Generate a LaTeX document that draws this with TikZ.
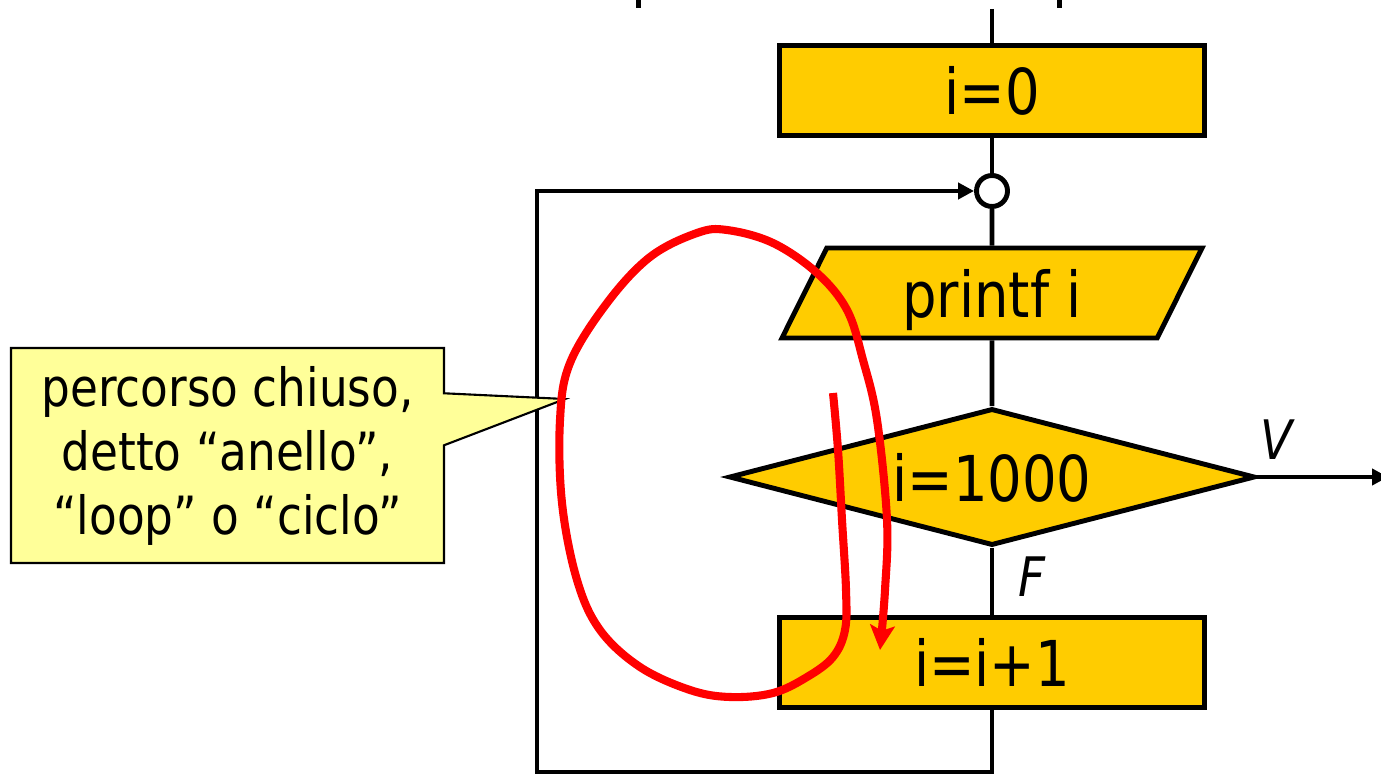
\documentclass[tikz,border=0pt]{standalone}
\usepackage{fontspec}
\setmainfont{DejaVu Sans}[FakeStretch=0.86]
\usetikzlibrary{shapes,shapes.callouts,arrows.meta,positioning}
\definecolor{flowgold}{HTML}{FFCC00}
\definecolor{notefill}{HTML}{FFFF99}

\begin{document}
\begin{tikzpicture}[
    font=\fontsize{18}{22}\selectfont,
    block/.style={
        draw=black,
        fill=flowgold,
        line width=1.4pt,
        minimum width=4.25cm,
        minimum height=0.9cm,
        inner sep=0pt,
        text depth=0pt
    },
    ioblock/.style={
        block,
        trapezium,
        trapezium left angle=47,
        trapezium right angle=133,
        trapezium stretches body,
        minimum width=4.2cm
    },
    decision/.style={
        block,
        diamond,
        aspect=3.8,
        minimum width=5.26cm,
        minimum height=1.37cm
    },
    junction/.style={
        draw=black,
        fill=white,
        circle,
        line width=1.4pt,
        minimum size=0.31cm,
        inner sep=0pt
    },
    note/.style={
        rectangle callout,
        draw=black,
        fill=notefill,
        line width=0.6pt,
        minimum width=4.33cm,
        minimum height=2.15cm,
        align=center,
        callout pointer width=0.52cm,
        font=\fontsize{15}{18.2}\selectfont
    },
    flow/.style={
        black,
        line width=1.35pt
    },
    lbl/.style={
        font=\fontsize{15.5}{18}\selectfont\itshape,
        inner sep=0pt
    },
    loopmark/.style={
        red,
        line width=2.3pt,
        -{Stealth[length=7pt,width=7pt,inset=1.5pt]}
    }
]
\useasboundingbox (0,0) rectangle (13.81,-7.74);

% cut-off text at the top edge
\fill (6.36,0) rectangle (6.41,-0.08);
\fill (10.565,0) rectangle (10.615,-0.08);

% Flow chart
\coordinate (entry) at (9.92,-0.09);
\node[block] (init) at (9.92,-0.905) {i=0};
\node[junction] (junc) at (9.92,-1.91) {};
\node[ioblock] (prt) at (9.92,-2.93) {printf i};
\node[decision] (cond) at (9.92,-4.77) {i=1000};
\node[block] (incr) at (9.92,-6.625) {i=i+1};
\coordinate (exit) at (13.88,-4.77);
\coordinate (loopcorner) at (5.37,-7.72);

\draw[flow] (entry) -- (init);
\draw[flow] (init) -- (junc);
\draw[flow] (junc) -- (prt);
\draw[flow] (prt) -- (cond);
\draw[flow] (cond) -- (incr);
\draw[flow, -{Triangle[length=4.5pt,width=4.5pt]}] (cond.east) -- (exit);
\draw[flow, -{Triangle[length=4.5pt,width=4.5pt]}] (incr) |- (loopcorner) |- (junc);

% Branch labels
\node[lbl] (vmark) at (12.76,-4.40) {V};
\node[lbl] (fmark) at (10.32,-5.77) {F};

% Comment box
\coordinate (ptr) at (5.65,-3.99);
\node[note, callout absolute pointer={(ptr)}] (remark) at (2.275,-4.555) {
    percorso chiuso,\\
    detto “anello”,\\
    “loop” o “ciclo”
};

% Hand-drawn loop
\draw[loopmark] plot[smooth, tension=0.6] coordinates {
    (8.33,-3.93) (8.38,-4.50) (8.42,-5.20) (8.46,-5.90) (8.45,-6.30)
    (8.33,-6.57) (8.07,-6.77) (7.73,-6.93) (7.30,-6.97) (6.90,-6.90)
    (6.40,-6.67) (6.00,-6.30) (5.77,-5.80) (5.62,-5.03) (5.60,-4.20)
    (5.70,-3.63) (6.07,-3.03) (6.50,-2.57) (6.97,-2.33) (7.27,-2.30)
    (7.73,-2.43) (8.17,-2.73) (8.47,-3.10) (8.63,-3.60) (8.77,-4.20)
    (8.87,-5.20) (8.85,-5.90) (8.80,-6.50)
};
\end{tikzpicture}
\end{document}
